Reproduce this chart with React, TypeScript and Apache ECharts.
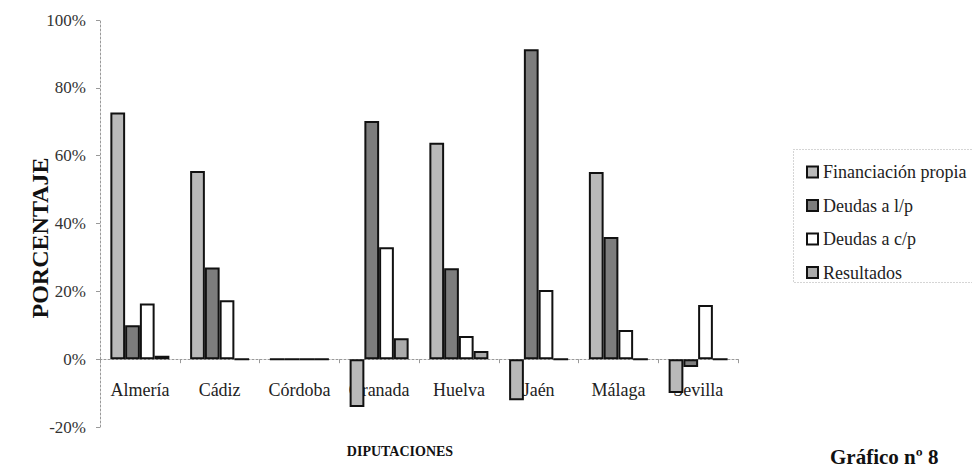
import React, { useEffect, useRef } from "react";
import * as echarts from "echarts";

const categories = ["Almería", "Cádiz", "Córdoba", "Granada", "Huelva", "Jaén", "Málaga", "Sevilla"];
const financiacionPropia = [72.7, 55.5, 0, -14.1, 63.8, -12.1, 55.2, -10.0];
const deudasLP = [10.0, 27.0, 0, 70.2, 26.8, 91.4, 36.0, -2.3];
const deudasCP = [16.4, 17.4, 0, 33.0, 6.8, 20.4, 8.6, 16.0];
const resultados = [1.0, 0, 0, 6.2, 2.4, 0, 0, 0];
const yTicks = { min: -20, max: 100, interval: 20 };

const serif = "Liberation Serif, DejaVu Serif, serif";

const GRID = { left: 100, right: 234, top: 20, bottom: 45 };
const CHART_H = 472;

export default function App() {
  const ref = useRef<HTMLDivElement>(null);
  useEffect(() => {
    document.body.style.margin = "0";
    const chart = echarts.init(ref.current!, undefined, { renderer: "svg" });
    const plotH = CHART_H - GRID.top - GRID.bottom;
    // shift the category axis up to the zero line of the value axis
    const zeroOffset = -(plotH * (0 - yTicks.min)) / (yTicks.max - yTicks.min);
    const mk = (name: string, data: number[], color: string) => ({
      name,
      type: "bar",
      data,
      barGap: "0%",
      barCategoryGap: "26%",
      itemStyle: { color, borderColor: "#111", borderWidth: 2 },
      emphasis: { disabled: true },
    });
    chart.setOption({
      animation: false,
      backgroundColor: "#ffffff",
      textStyle: { fontFamily: serif },
      grid: { ...GRID, outerBoundsMode: "none" },
      legend: {
        orient: "vertical",
        left: 801,
        top: 157,
        itemGap: 13.5,
        itemWidth: 11,
        itemHeight: 11,
        icon: "rect",
        textStyle: { fontFamily: serif, fontSize: 18, color: "#222", lineHeight: 20 },
        data: ["Financiación propia", "Deudas a l/p", "Deudas a c/p", "Resultados"],
      },
      xAxis: {
        type: "category",
        data: categories,
        offset: zeroOffset,
        axisLine: { onZero: false, lineStyle: { color: "#999", type: [2, 2], width: 1 } },
        axisTick: { show: true, length: 4, lineStyle: { color: "#999" } },
        axisLabel: { fontFamily: serif, fontSize: 18, color: "#222", margin: 22, interval: 0 },
        splitLine: { show: false },
      },
      yAxis: {
        type: "value",
        min: yTicks.min,
        max: yTicks.max,
        interval: yTicks.interval,
        axisLine: { show: true, lineStyle: { color: "#999", type: [2, 2], width: 1 } },
        axisTick: { show: true, length: 4, lineStyle: { color: "#999" } },
        axisLabel: { fontFamily: serif, fontSize: 17, color: "#333", margin: 14, formatter: "{value}%" },
        splitLine: { show: false },
      },
      graphic: [
        {
          type: "rect",
          shape: { x: 793.5, y: 149.5, width: 200, height: 133 },
          style: { fill: "none", stroke: "#aaa", lineWidth: 1, lineDash: [1, 2] },
          silent: true,
        },
        {
          type: "text",
          x: 40,
          y: 238,
          rotation: Math.PI / 2,
          style: {
            text: "PORCENTAJE",
            font: "bold 24px " + serif,
            fill: "#111",
            align: "center",
            verticalAlign: "middle",
          },
        },
        {
          type: "text",
          x: 400,
          y: 451,
          style: {
            text: "DIPUTACIONES",
            font: "bold 14px " + serif,
            fill: "#111",
            align: "center",
            verticalAlign: "middle",
          },
        },
        {
          type: "text",
          x: 830,
          y: 446,
          style: { text: "Gráfico nº 8", font: "bold 21px " + serif, fill: "#111" },
        },
      ],
      series: [
        mk("Financiación propia", financiacionPropia, "#b9b9b9"),
        mk("Deudas a l/p", deudasLP, "#7d7d7d"),
        mk("Deudas a c/p", deudasCP, "#ffffff"),
        mk("Resultados", resultados, "#aaaaaa"),
      ],
    });
    return () => chart.dispose();
  }, []);
  return <div ref={ref} style={{ width: 972, height: 472 }} />;
}
